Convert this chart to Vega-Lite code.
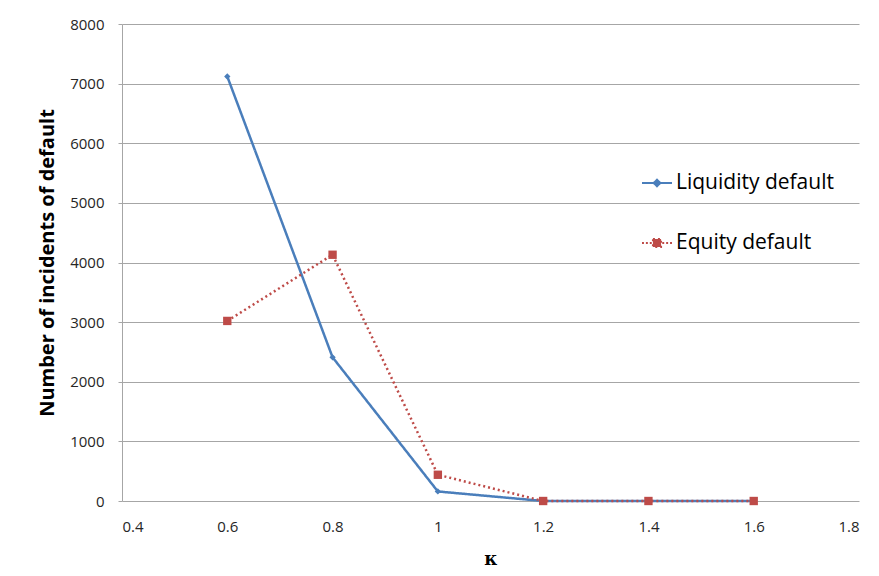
{
  "$schema": "https://vega.github.io/schema/vega-lite/v6.json",
  "width": 737,
  "height": 477,
  "autosize": {"type": "none"},
  "padding": {"left": 122, "top": 24, "right": 20, "bottom": 75},
  "background": "white",
  "data": {
    "values": [
      {"kappa": 0.6, "count": 7120, "series": "Liquidity default"},
      {"kappa": 0.8, "count": 2410, "series": "Liquidity default"},
      {"kappa": 1.0, "count": 160, "series": "Liquidity default"},
      {"kappa": 1.2, "count": 0, "series": "Liquidity default"},
      {"kappa": 1.4, "count": 0, "series": "Liquidity default"},
      {"kappa": 1.6, "count": 0, "series": "Liquidity default"},
      {"kappa": 0.6, "count": 3020, "series": "Equity default"},
      {"kappa": 0.8, "count": 4130, "series": "Equity default"},
      {"kappa": 1.0, "count": 440, "series": "Equity default"},
      {"kappa": 1.2, "count": 0, "series": "Equity default"},
      {"kappa": 1.4, "count": 0, "series": "Equity default"},
      {"kappa": 1.6, "count": 0, "series": "Equity default"}
    ]
  },
  "encoding": {
    "x": {
      "field": "kappa", "type": "quantitative",
      "scale": {"domain": [0.4, 1.8], "nice": false, "zero": false},
      "axis": {
        "values": [0.4, 0.6, 0.8, 1, 1.2, 1.4, 1.6, 1.8],
        "format": "~g",
        "title": "κ",
        "titleFont": "DejaVu Serif",
        "titleFontSize": 18,
        "titleFontWeight": "bold",
        "titleColor": "#000000",
        "titlePadding": 16,
        "grid": false,
        "domain": false,
        "ticks": false,
        "labelPadding": 18,
        "labelFont": "Open Sans",
        "labelFontSize": 15,
        "labelColor": "#262626"
      }
    },
    "y": {
      "field": "count", "type": "quantitative",
      "scale": {"domain": [0, 8000], "nice": false},
      "axis": {
        "values": [0, 1000, 2000, 3000, 4000, 5000, 6000, 7000, 8000],
        "format": "d",
        "title": "Number of incidents of default",
        "titleFont": "Open Sans",
        "titleFontSize": 20,
        "titleFontWeight": "bold",
        "titleColor": "#000000",
        "titlePadding": 12,
        "grid": true,
        "gridColor": "#A6A6A6",
        "gridWidth": 1,
        "domain": true,
        "domainColor": "#A6A6A6",
        "tickColor": "#A6A6A6",
        "tickSize": 4,
        "labelPadding": 14,
        "labelFont": "Open Sans",
        "labelFontSize": 15,
        "labelColor": "#262626"
      }
    },
    "color": {
      "field": "series", "type": "nominal",
      "sort": ["Liquidity default", "Equity default"],
      "scale": {"domain": ["Liquidity default", "Equity default"], "range": ["#4A7EBB", "#BE4B48"]},
      "legend": {
        "title": null,
        "orient": "none",
        "legendX": 519,
        "legendY": 143,
        "labelFont": "Open Sans",
        "labelFontSize": 21,
        "labelColor": "#000000",
        "symbolSize": 900,
        "symbolStrokeWidth": 2,
        "rowPadding": 34,
        "labelOffset": 3,
        "encode": {
          "symbols": {
            "update": {
              "shape": {"signal": "datum.value === 'Liquidity default' ? 'M-1,0H1M0,-0.22L0.22,0L0,0.22L-0.22,0Z' : 'M-1,0H-0.87M-0.74,0H-0.61M-0.48,0H-0.35M-0.27,-0.27H0.27V0.27H-0.27ZM0.35,0H0.48M0.61,0H0.74M0.87,0H1'"},
              "fill": {"signal": "scale('color', datum.value)"},
              "stroke": {"signal": "scale('color', datum.value)"},
              "strokeDash": {"value": []},
              "size": {"value": 900},
              "opacity": {"value": 1}
            }
          }
        }
      }
    }
  },
  "layer": [
    {
      "mark": {"type": "line", "strokeWidth": 2.5},
      "encoding": {
        "strokeDash": {
          "field": "series", "type": "nominal",
          "sort": ["Liquidity default", "Equity default"],
          "scale": {"domain": ["Liquidity default", "Equity default"], "range": [[1, 0], [2, 3]]},
          "legend": null
        }
      }
    },
    {
      "transform": [{"filter": "datum.series === 'Liquidity default'"}],
      "mark": {"type": "point", "filled": true, "opacity": 1, "shape": "diamond", "size": 40}
    },
    {
      "transform": [{"filter": "datum.series === 'Equity default'"}],
      "mark": {"type": "point", "filled": true, "opacity": 1, "shape": "square", "size": 70}
    }
  ],
  "config": {
    "view": {"stroke": null}
  }
}
